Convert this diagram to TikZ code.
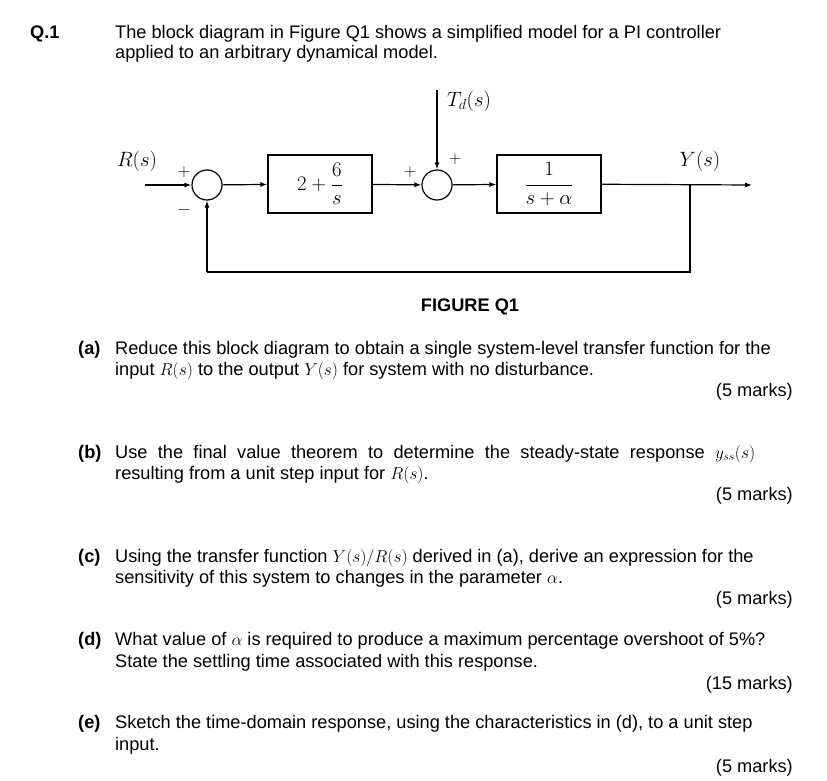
\documentclass[tikz,border=0pt]{standalone}
\usepackage{fontspec}
\setmainfont{Liberation Sans}
\usetikzlibrary{arrows.meta}
\begin{document}
\begin{tikzpicture}[x=1pt,y=-1pt,
  txt/.style={anchor=base west,inner sep=0pt,font=\fontsize{18.2}{22}\selectfont},
  mk/.style={anchor=base east,inner sep=0pt,font=\fontsize{18.2}{22}\selectfont},
  bf/.style={font=\bfseries\fontsize{18.2}{22}\selectfont},
  blk/.style={draw,line width=1.2pt,minimum width=104pt,minimum height=58pt,inner sep=0pt,font=\fontsize{20}{22}\selectfont},
  sum/.style={draw,circle,line width=1.2pt,minimum size=30pt,inner sep=0pt},
  sig/.style={line width=1.2pt,-{Latex[length=7pt,width=5pt]}},
  ln/.style={line width=1.2pt},
  lab/.style={inner sep=0pt,font=\fontsize{20}{22}\selectfont},
  sg/.style={inner sep=0pt,font=\fontsize{19}{20}\selectfont}]
\useasboundingbox (0,0) rectangle (827,781);
% header
\node[txt,bf] (q) at (30,39) {Q.1};
\node[txt] (h1) at (115,39) {The block diagram in Figure Q1 shows a simplified model for a PI controller};
\node[txt] (h2) at (115,59) {applied to an arbitrary dynamical model.};
% diagram
\node[sum] (s1) at (207,185) {};
\node[blk] (b1) at (320,184) {$\displaystyle 2+\frac{6}{s}$};
\node[sum] (s2) at (437,185) {};
\node[blk] (b2) at (549,184) {$\displaystyle\frac{1}{s+\alpha}$};
\coordinate (in) at (145,185);
\coordinate (out) at (752,185);
\coordinate (br) at (690,185);
\coordinate (c1) at (690,272);
\coordinate (c2) at (207,272);
\coordinate (td) at (437,90);
\draw[sig] (in) -- (s1);
\draw[sig] (s1) -- (b1);
\draw[sig] (b1) -- (s2);
\draw[sig] (s2) -- (b2);
\draw[sig] (b2) -- (out);
\draw[sig] (td) -- (s2);
\draw[ln] (br) -- (c1) -- (c2);
\draw[sig] (c2) -- (s1);
\node[lab] (R) at (137,161) {$R(s)$};
\node[lab] (Y) at (700,161) {$Y(s)$};
\node[lab] (T) at (469,101) {$T_d(s)$};
\node[sg] (p1) at (184,172) {$+$};
\node[sg] (m1) at (184,210) {$-$};
\node[sg] (p2) at (410,172) {$+$};
\node[sg] (p3) at (455,159) {$+$};
\node[txt,anchor=base,bf] (fig) at (470,311) {FIGURE Q1};
% questions
\node[txt,bf] (la) at (78,354) {(a)};
\node[txt] (a1) at (115,354) {Reduce this block diagram to obtain a single system-level transfer function for the};
\node[txt] (a2) at (115,375) {input $R(s)$ to the output $Y(s)$ for system with no disturbance.};
\node[mk] (ma) at (793,396) {(5 marks)};
\node[txt,bf] (lb) at (78,458) {(b)};
\node[txt] (b1t) at (115,458) {\hbox to 640pt{Use\hfill the\hfill final\hfill value\hfill theorem\hfill to\hfill determine\hfill the\hfill steady-state\hfill response\hfill $y_{ss}(s)$}};
\node[txt] (b2t) at (115,479) {resulting from a unit step input for $R(s)$.};
\node[mk] (mb) at (793,500) {(5 marks)};
\node[txt,bf] (lc) at (78,562) {(c)};
\node[txt] (c1t) at (115,562) {Using the transfer function $Y(s)/R(s)$ derived in (a), derive an expression for the};
\node[txt] (c2t) at (115,583) {sensitivity of this system to changes in the parameter $\alpha$.};
\node[mk] (mc) at (793,604) {(5 marks)};
\node[txt,bf] (ld) at (78,645) {(d)};
\node[txt] (d1t) at (115,645) {What value of $\alpha$ is required to produce a maximum percentage overshoot of 5\%?};
\node[txt] (d2t) at (115,667) {State the settling time associated with this response.};
\node[mk] (md) at (793,689) {(15 marks)};
\node[txt,bf] (le) at (78,728) {(e)};
\node[txt] (e1t) at (115,728) {Sketch the time-domain response, using the characteristics in (d), to a unit step};
\node[txt] (e2t) at (115,750) {input.};
\node[mk] (me) at (793,772) {(5 marks)};
\end{tikzpicture}
\end{document}
